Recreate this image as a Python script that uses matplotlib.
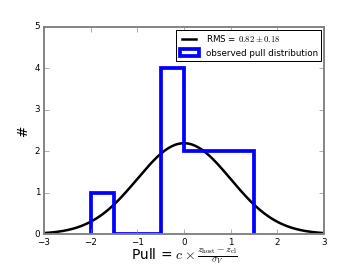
#!/usr/bin/env python3

import numpy as np
import matplotlib
matplotlib.use("Agg")
import matplotlib.pyplot as plt

# Histogram bin edges and counts of the observed pulls
bin_edges = [-2.0, -1.5, -1.0, -0.5, 0.0, 0.5, 1.0, 1.5]
counts = [1, 0, 0, 4, 2, 2, 2]
n_total = 11
bin_width = 0.5
rms_label = r"RMS = $0.82 \pm 0.18$"

plt.style.use("classic")
plt.rcParams["figure.facecolor"] = "white"
plt.rcParams["savefig.facecolor"] = "white"

fig = plt.figure(figsize=(4, 3), dpi=90)
ax = fig.add_axes([0.122, 0.133, 0.778, 0.767])

# Expected unit gaussian scaled to the number of entries
x = np.linspace(-3, 3, 400)
gauss = n_total * bin_width * np.exp(-0.5 * x ** 2) / np.sqrt(2 * np.pi)
ax.plot(x, gauss, color="k", lw=2, label=rms_label)

# Observed pull distribution as an unfilled step histogram
centers = [(a + b) / 2 for a, b in zip(bin_edges[:-1], bin_edges[1:])]
ax.hist(centers, bins=bin_edges, weights=counts, histtype="step",
        color="b", lw=3, label="observed pull distribution")

ax.set_xlim(-3, 3)
ax.set_ylim(0, 5)
ax.set_xticks(range(-3, 4))
ax.set_yticks(range(0, 6))
ax.tick_params(labelsize=7, color="gray", pad=3)
for sp in ax.spines.values():
    sp.set_color("gray")
    sp.set_linewidth(1.5)

ax.set_xlabel(r"Pull = $c \times \frac{z_{\rm host} - z_{\rm cl}}{\sigma_V}$",
              fontsize=11, labelpad=-1)
ax.set_ylabel("#", fontsize=11, labelpad=4)

leg = ax.legend(loc="upper right", fontsize=7, handlelength=2.2,
                borderaxespad=0.3)
leg.get_frame().set_linewidth(0.8)

fig.savefig("out.png", dpi=90)
